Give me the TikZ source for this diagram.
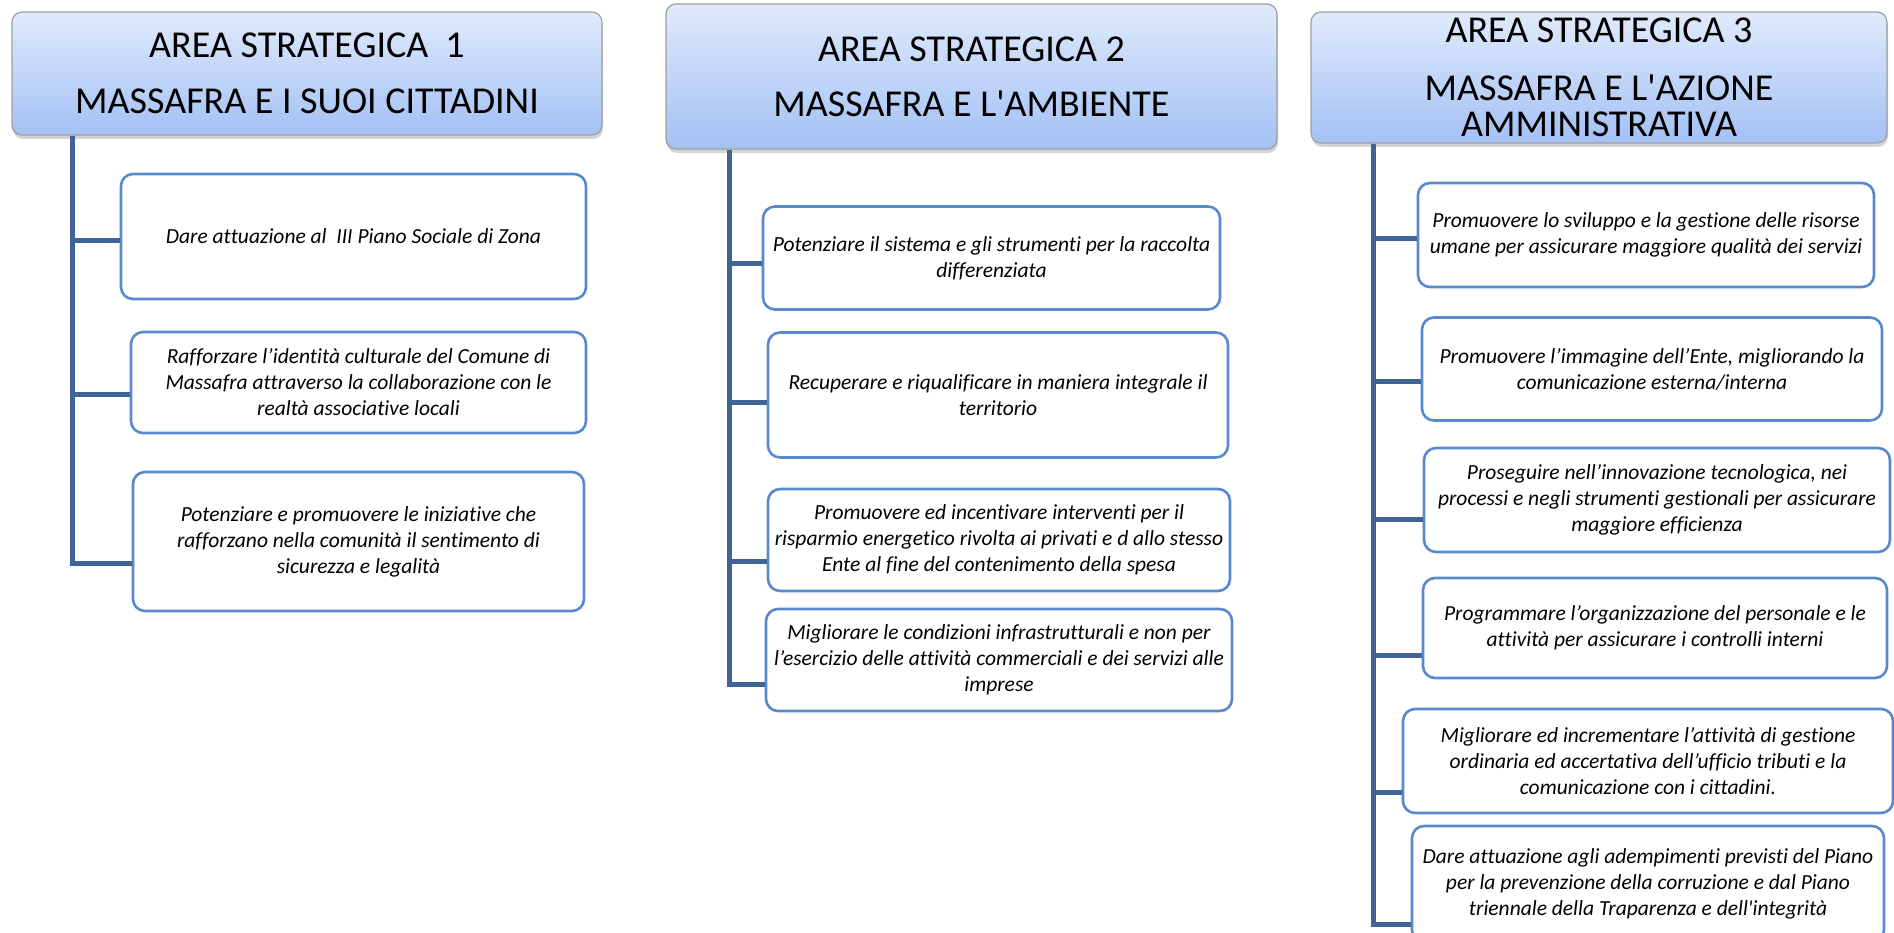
\documentclass[tikz,border=0pt]{standalone}
\usepackage{fontspec}
\newfontfamily\calibri{Carlito}[Ligatures=NoCommon]
\usetikzlibrary{shadows}
\definecolor{trunkblue}{RGB}{64,100,152}
\definecolor{goalblue}{RGB}{88,136,205}
\definecolor{areatop}{RGB}{224,234,251}
\definecolor{areabottom}{RGB}{163,193,245}
\tikzset{
  area/.style={draw=gray!75, line width=1.2pt, rounded corners=10pt,
    top color=areatop, bottom color=areabottom,
    drop shadow={shadow xshift=1pt, shadow yshift=-4pt, opacity=0.35},
    align=center, inner sep=0pt, font=\calibri\fontsize{38}{36}\selectfont},
  goal/.style={draw=goalblue, line width=2.6pt, rounded corners=12pt, fill=white,
    align=center, inner sep=0pt, font=\calibri\fontsize{21.5}{26}\selectfont\itshape},
  trunk/.style={draw=trunkblue, line width=5pt}
}
\begin{document}
\begin{tikzpicture}[x=1pt, y=-1pt]
\useasboundingbox (0,0) rectangle (1894,933);
% area 1
\node[area, minimum width=590pt, minimum height=123pt] (area1) at (307,73.5)
  {AREA STRATEGICA\ \ 1\\[20pt]MASSAFRA E I SUOI CITTADINI};
\node[goal, minimum width=465pt, minimum height=125pt] (goal11) at (353.5,236.5)
  {Dare attuazione al\ \ III Piano Sociale di Zona};
\node[goal, minimum width=455pt, minimum height=101pt] (goal12) at (358.5,382.5)
  {Rafforzare l’identità culturale del Comune di\\Massafra attraverso la collaborazione con le\\realtà associative locali};
\node[goal, minimum width=451pt, minimum height=139pt] (goal13) at (358.5,541.5)
  {Potenziare e promuovere le iniziative che\\rafforzano nella comunità il sentimento di\\sicurezza e legalità};
\coordinate (trunk1) at (72,0);
\draw[trunk] (area1.south -| trunk1) |- ([yshift=-4pt]goal11.west);
\draw[trunk] (area1.south -| trunk1) |- ([yshift=-12pt]goal12.west);
\draw[trunk] (area1.south -| trunk1) |- ([yshift=-22pt]goal13.west);
% area 2
\node[area, minimum width=611pt, minimum height=145pt] (area2) at (971.5,76.5)
  {AREA STRATEGICA 2\\[19pt]MASSAFRA E L'AMBIENTE};
\node[goal, minimum width=457pt, minimum height=103pt] (goal21) at (991.5,258)
  {Potenziare il sistema e gli strumenti per la raccolta\\differenziata};
\node[goal, minimum width=460pt, minimum height=125pt] (goal22) at (998,395)
  {Recuperare e riqualificare in maniera integrale il\\territorio};
\node[goal, minimum width=462pt, minimum height=102pt] (goal23) at (999,540)
  {Promuovere ed incentivare interventi per il\\risparmio energetico rivolta ai privati e d allo stesso\\Ente al fine del contenimento della spesa};
\node[goal, minimum width=466pt, minimum height=102pt] (goal24) at (999,660)
  {Migliorare le condizioni infrastrutturali e non per\\l’esercizio delle attività commerciali e dei servizi alle\\imprese};
\coordinate (trunk2) at (729,0);
\draw[trunk] (area2.south -| trunk2) |- ([yshift=-6pt]goal21.west);
\draw[trunk] (area2.south -| trunk2) |- ([yshift=-7pt]goal22.west);
\draw[trunk] (area2.south -| trunk2) |- ([yshift=-21pt]goal23.west);
\draw[trunk] (area2.south -| trunk2) |- ([yshift=-24pt]goal24.west);
% area 3
\node[area, minimum width=576pt, minimum height=131pt] (area3) at (1599,77.5)
  {AREA STRATEGICA 3\\[22pt]MASSAFRA E L'AZIONE\\AMMINISTRATIVA};
\node[goal, minimum width=456pt, minimum height=104pt] (goal31) at (1646,235)
  {Promuovere lo sviluppo e la gestione delle risorse\\umane per assicurare maggiore qualità dei servizi};
\node[goal, minimum width=460pt, minimum height=103pt] (goal32) at (1652,369)
  {Promuovere l’immagine dell’Ente, migliorando la\\comunicazione esterna/interna};
\node[goal, minimum width=466pt, minimum height=104pt] (goal33) at (1657,500)
  {Proseguire nell’innovazione tecnologica, nei\\processi e negli strumenti gestionali per assicurare\\maggiore efficienza};
\node[goal, minimum width=464pt, minimum height=100pt] (goal34) at (1655,628)
  {Programmare l’organizzazione del personale e le\\attività per assicurare i controlli interni};
\node[goal, minimum width=490pt, minimum height=104pt] (goal35) at (1648,761)
  {Migliorare ed incrementare l’attività di gestione\\ordinaria ed accertativa dell’ufficio tributi e la\\comunicazione con i cittadini.};
\node[goal, minimum width=472pt, minimum height=116pt] (goal36) at (1648,884)
  {Dare attuazione agli adempimenti previsti del Piano\\per la prevenzione della corruzione e dal Piano\\triennale della Traparenza e dell'integrità};
\coordinate (trunk3) at (1373,0);
\draw[trunk] (area3.south -| trunk3) |- ([yshift=-4pt]goal31.west);
\draw[trunk] (area3.south -| trunk3) |- ([yshift=-12pt]goal32.west);
\draw[trunk] (area3.south -| trunk3) |- ([yshift=-19pt]goal33.west);
\draw[trunk] (area3.south -| trunk3) |- ([yshift=-27pt]goal34.west);
\draw[trunk] (area3.south -| trunk3) |- ([yshift=-31pt]goal35.west);
\draw[trunk] (area3.south -| trunk3) |- ([yshift=-40pt]goal36.west);
\end{tikzpicture}
\end{document}
